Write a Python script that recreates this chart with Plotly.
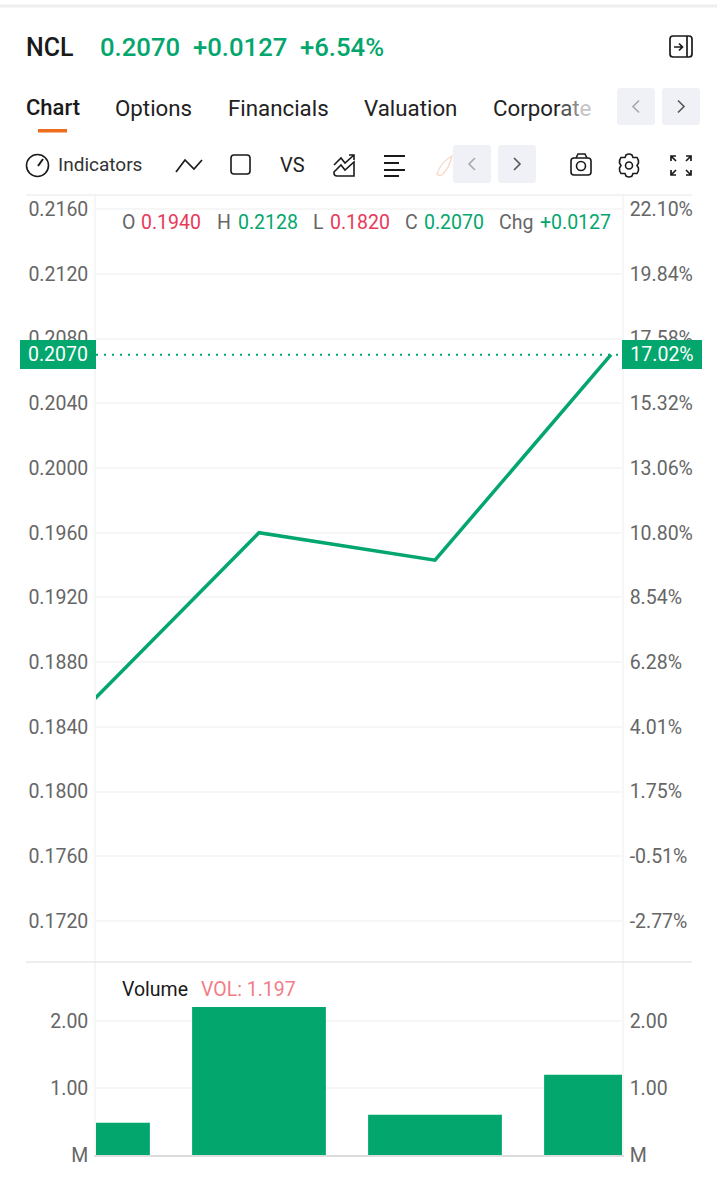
import re
import plotly.graph_objects as go

W, H = 717, 1200

# Data
sessions = [0, 1, 2, 3]
close_prices = [0.1850, 0.1960, 0.1943, 0.2070]
volumes = [0.48, 2.21, 0.60, 1.197]
last_price = 0.2070

price_ticks = [0.2160, 0.2120, 0.2080, 0.2040, 0.2000, 0.1960, 0.1920, 0.1880, 0.1840, 0.1800, 0.1760, 0.1720]
price_labels = ['0.2160', '0.2120', '0.2080', '0.2040', '0.2000', '0.1960', '0.1920', '0.1880', '0.1840', '0.1800', '0.1760', '0.1720']
pct_labels = ['22.10%', '19.84%', '17.58%', '15.32%', '13.06%', '10.80%', '8.54%', '6.28%', '4.01%', '1.75%', '-0.51%', '-2.77%']
vol_ticks = [0, 1, 2]
vol_labels = ['M', '1.00', '2.00']

GREEN = '#03A66D'
RED = '#E8395A'
GRAY = '#666666'
DARK = '#1a1a1a'
GRID = '#F6F6F6'
FONT = 'Roboto'


def px(x):
    return x / W


def py(y):
    return 1 - y / H


def path(d):
    # svg path written in screen pixels -> paper coordinates
    toks = re.findall(r'[MLQCZ]|-?[\d.]+', d)
    out, is_x = [], True
    for t in toks:
        if t in 'MLQCZ':
            out.append(t)
            is_x = True
        else:
            v = float(t)
            out.append(f'{px(v):.5f}' if is_x else f'{py(v):.5f}')
            is_x = not is_x
    return ' '.join(out)


def round_rect(x0, y0, x1, y1, r):
    return (f'M{x0 + r} {y0} L{x1 - r} {y0} Q{x1} {y0} {x1} {y0 + r} L{x1} {y1 - r} Q{x1} {y1} {x1 - r} {y1} '
            f'L{x0 + r} {y1} Q{x0} {y1} {x0} {y1 - r} L{x0} {y0 + r} Q{x0} {y0} {x0 + r} {y0} Z')


shapes = []
annotations = []


def icon(d, color=DARK, width=1.6, fill=None):
    s = dict(type='path', xref='paper', yref='paper', path=path(d), line=dict(color=color, width=width))
    if fill:
        s['fillcolor'] = fill
    shapes.append(s)


def box(x0, y0, x1, y1, fill):
    shapes.append(dict(type='rect', xref='paper', yref='paper', x0=px(x0), x1=px(x1), y0=py(y0), y1=py(y1),
                       fillcolor=fill, line=dict(width=0, color=fill), layer='above'))


def circle(cx, cy, r, color=DARK, width=1.6):
    shapes.append(dict(type='circle', xref='paper', yref='paper', x0=px(cx - r), x1=px(cx + r),
                       y0=py(cy - r), y1=py(cy + r), line=dict(color=color, width=width)))


def label(x, y, text, size=19.5, color=GRAY, anchor='left', **kw):
    annotations.append(dict(xref='paper', yref='paper', x=px(x), y=py(y), text=text, showarrow=False,
                            xanchor=anchor, yanchor='middle', font=dict(family=FONT, size=size, color=color),
                            borderpad=0, borderwidth=0, **kw))


fig = go.Figure()

# price pane
fig.add_trace(go.Scatter(x=sessions, y=close_prices, mode='lines', line=dict(color=GREEN, width=3.5),
                         xaxis='x', yaxis='y', hoverinfo='skip'))
fig.add_trace(go.Scatter(x=sessions, y=close_prices, mode='lines', opacity=0, xaxis='x', yaxis='y3', hoverinfo='skip'))

# volume pane
fig.add_trace(go.Bar(x=sessions, y=volumes, width=0.76, marker=dict(color=GREEN, line=dict(width=0)),
                     xaxis='x2', yaxis='y2', hoverinfo='skip'))
fig.add_trace(go.Scatter(x=sessions, y=volumes, mode='lines', opacity=0, xaxis='x2', yaxis='y4', hoverinfo='skip'))

# last price marker line
shapes.append(dict(type='line', xref='x domain', yref='y', x0=0, x1=1, y0=last_price, y1=last_price,
                   line=dict(color=GREEN, width=2, dash='2px,6px')))

# separators
for yy, x0, x1, col, wd in [(6, 0, 717, '#EEEEEE', 3), (195, 26, 692, '#EFEFEF', 1.5), (962, 26, 692, '#E9E9E9', 1.5)]:
    shapes.append(dict(type='line', xref='paper', yref='paper', x0=px(x0), x1=px(x1), y0=py(yy), y1=py(yy),
                       line=dict(color=col, width=wd)))

# header
label(26, 47, 'NCL', size=25, color=DARK)
annotations[-1]['font']['weight'] = 500
for xx, txt in [(100, '0.2070'), (193, '+0.0127'), (300, '+6.54%')]:
    label(xx, 47, txt, size=25.7, color=GREEN)
    annotations[-1]['font']['weight'] = 500

# exit icon
icon(round_rect(670, 36, 692, 57, 3), width=1.7)
icon('M687 36 L687 57', width=1.7)
icon('M674 47 L682 47 M679 43.5 L682.5 47 L679 50.5', width=1.7)

# tabs
for xx, txt in [(115, 'Options'), (228, 'Financials'), (364, 'Valuation')]:
    label(xx, 108, txt, size=22.3, color='#222222')
label(26, 108, 'Chart', size=22, color=DARK)
annotations[-1]['font']['weight'] = 500
label(493, 108, "Corpor<span style='color:#555555'>a</span><span style='color:#8a8a8a'>t</span>"
      "<span style='color:#c4c4c4'>e</span>", size=22.3, color='#222222')
box(38, 129, 67, 132.5, '#EE6C1E')

# scroll buttons
for x0, x1, y0, y1, col, chev, sign in [
    (617, 655, 88, 125, '#F0F1F6', '#A8A8A8', -1), (662, 700, 88, 125, '#F0F1F6', '#555555', 1),
    (453, 491, 145, 183, '#F0F1F6', '#A8A8A8', -1), (498, 536, 145, 183, '#F0F1F6', '#555555', 1),
]:
    shapes.append(dict(type='path', xref='paper', yref='paper', path=path(round_rect(x0, y0, x1, y1, 3)),
                       fillcolor=col, line=dict(width=0)))
    cx, cy = (x0 + x1) / 2, (y0 + y1) / 2
    icon(f'M{cx - 3 * sign} {cy - 6} L{cx + 3 * sign} {cy} L{cx - 3 * sign} {cy + 6}', color=chev, width=1.6)

# toolbar
circle(37.5, 165.5, 11)
icon('M38 166 L43 159', width=2)
label(58, 165, 'Indicators', size=19, color='#333333')
icon('M176 172 L185 160 L194 169 L202 160', width=1.7)
icon(round_rect(231, 155, 250, 174, 3), width=1.6)
label(280, 165, 'VS', size=20, color='#222222')
icon('M334 165 L341 158 L345 163 L354 155 M349 155 L354 155 L354 160', width=1.6)
icon('M334 172 L341 165 L345 170 L354 162 L354 176 L337 176 Q334 176 334 173 Z', width=1.6)
icon('M384 156 L405 156 M384 163 L399 163 M384 170 L405 170 M384 176 L399 176', width=1.8)
icon('M437 174 Q441 162 452 156 Q449 168 443 174 Q440 177 437 174 Z', color='#F7D9C4', width=1.3)

# camera
icon(round_rect(571, 158, 591, 175, 3), width=1.6)
icon('M576 158 L578 154 L585 154 L587 158', width=1.6)
circle(581, 166, 4.5)
# gear
icon('M626 155 Q629 153 632 155 L633 157.5 L637 157.5 Q639 160 638.5 163 L637 165.5 L638.5 168 Q639 171 637 173.5 '
     'L633 173.5 L632 176 Q629 178 626 176 L625 173.5 L621 173.5 Q619 171 619.5 168 L621 165.5 L619.5 163 '
     'Q619 160 621 157.5 L625 157.5 Z', width=1.6)
circle(629, 165.5, 3.5)
# fullscreen
icon('M671 161 L671 156 L676 156 M671 156 L676 161 M691 161 L691 156 L686 156 M691 156 L686 161 '
     'M671 170 L671 175 L676 175 M671 175 L676 170 M691 170 L691 175 L686 175 M691 175 L686 170', width=1.7)

# OHLC legend
for xx, txt, col in [(122, 'O', GRAY), (141, '0.1940', RED), (217, 'H', GRAY), (238, '0.2128', GREEN),
                     (313, 'L', GRAY), (330, '0.1820', RED), (405, 'C', GRAY), (424, '0.2070', GREEN),
                     (499, 'Chg', GRAY), (540, '+0.0127', GREEN)]:
    label(xx, 222, txt, size=19.5, color=col)

label(122, 989, 'Volume', size=19.5, color=DARK)
label(201, 989, 'VOL: 1.197', size=19.5, color='#F27C88')

# price tags
label(20, 354.5, '0.2070', size=19.5, color='#FFFFFF', bgcolor=GREEN, width=76, height=29, align='center')
label(622, 354.5, '17.02%', size=19.5, color='#FFFFFF', bgcolor=GREEN, width=80, height=29, align='center')

axis_font = dict(family=FONT, size=19.5, color=GRAY)
common_x = dict(range=[0.0739, 3.0625], showgrid=False, zeroline=False, showticklabels=False, ticks='',
                automargin=False)
common_y = dict(zeroline=False, tickfont=axis_font, showline=True, linecolor='#F6F6F6', linewidth=1.5,
                ticks='', ticklabelstandoff=2, automargin=False)
price_range = [0.16947, 0.21687]
vol_range = [0, 2.88]
p_dom = [1 - 962 / H, 1 - 195 / H]
v_dom = [1 - 1155 / H, 1 - 962 / H]

fig.update_layout(
    width=W, height=H,
    margin=dict(l=0, r=0, t=0, b=0),
    paper_bgcolor='white', plot_bgcolor='white',
    showlegend=False, hovermode=False,
    font=dict(family=FONT),
    shapes=shapes, annotations=annotations,
    xaxis=dict(domain=[px(96), px(622)], anchor='y', **common_x),
    xaxis2=dict(domain=[px(96), px(622)], anchor='y2', showline=True, linecolor='#DDDDDD', linewidth=1.5, **common_x),
    yaxis=dict(domain=p_dom, range=price_range, anchor='x', tickvals=price_ticks, ticktext=price_labels,
               showgrid=True, gridcolor=GRID, gridwidth=1.5, **common_y),
    yaxis3=dict(range=price_range, overlaying='y', side='right', anchor='x', tickvals=price_ticks,
                ticktext=pct_labels, showgrid=False, **common_y),
    yaxis2=dict(domain=v_dom, range=vol_range, anchor='x2', tickvals=vol_ticks, ticktext=vol_labels,
                showgrid=True, gridcolor=GRID, gridwidth=1.5, **common_y),
    yaxis4=dict(range=vol_range, overlaying='y2', side='right', anchor='x2', tickvals=vol_ticks,
                ticktext=vol_labels, showgrid=False, **common_y),
)

# page default body margin would push the figure off the window
fig.write_html("out.html", config={'displayModeBar': False}, post_script="document.body.style.margin = '0';")
